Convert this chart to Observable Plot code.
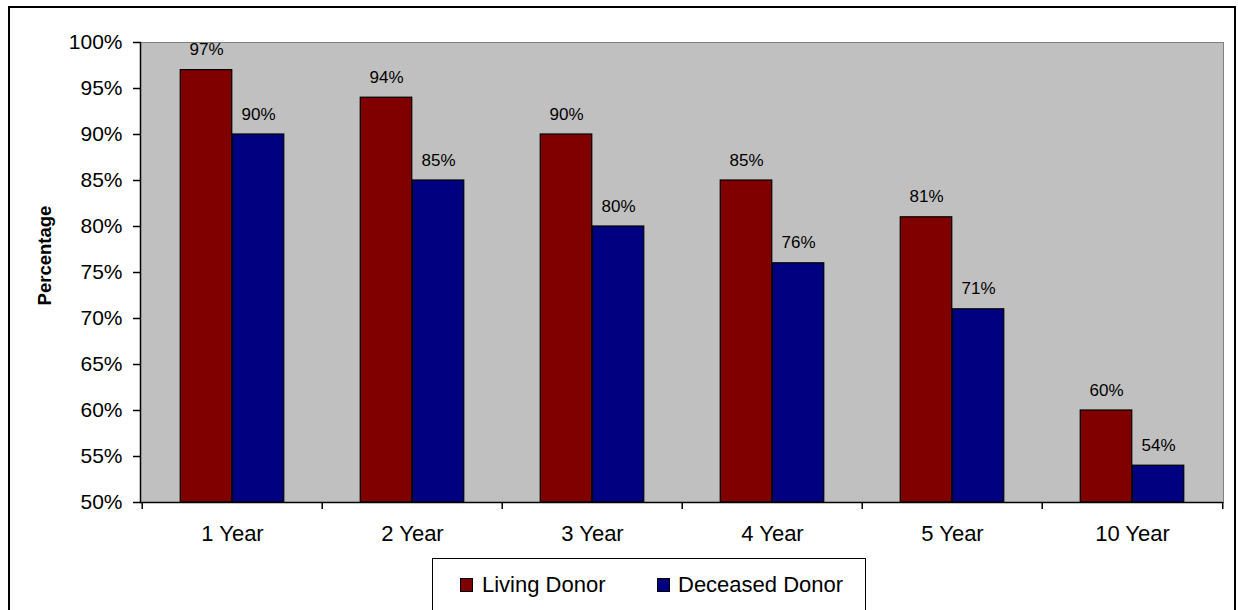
<!DOCTYPE html>
<html>
<head>
<meta charset="utf-8">
<script src="https://cdn.jsdelivr.net/npm/d3@7"></script>
<script src="https://cdn.jsdelivr.net/npm/@observablehq/plot@0.6"></script>
<style>
  html, body { margin: 0; padding: 0; background: #fff; overflow: hidden; width: 1238px; height: 610px; }
  body { position: relative; font-family: "Liberation Sans", Arial, sans-serif; color: #000; }
  #border { position: absolute; left: 8px; top: 6px; width: 1228px; height: 640px; border: 2px solid #000; box-sizing: border-box; }
  #chart { position: absolute; left: 0; top: 0; }
  #legend { position: absolute; left: 432px; top: 558px; width: 434px; height: 70px; border: 1px solid #000; box-sizing: border-box; background: #fff; font-size: 22px; }
  .sw { position: absolute; top: 19px; width: 13px; height: 14px; border: 1px solid #000; box-sizing: border-box; }
  .lb { position: absolute; top: 15px; line-height: 22px; white-space: nowrap; }
</style>
</head>
<body>
<div id="border"></div>
<div id="chart"></div>
<div id="legend"></div>
<script>
// ---- data ----
const years = ["1 Year", "2 Year", "3 Year", "4 Year", "5 Year", "10 Year"];
const livingDonor = [97, 94, 90, 85, 81, 60];
const deceasedDonor = [90, 85, 80, 76, 71, 54];
const seriesNames = ["Living Donor", "Deceased Donor"];
const seriesColors = ["#800000", "#000080"];
const yTicks = [50, 55, 60, 65, 70, 75, 80, 85, 90, 95, 100];

const livingData = years.map((year, i) => ({year, value: livingDonor[i]}));
const deceasedData = years.map((year, i) => ({year, value: deceasedDonor[i]}));

// ---- layout ----
const W = 1238, H = 545;
const mL = 140, mR = 15, mT = 42, mB = 43;
const band = (W - mL - mR) / years.length;
const half = band / 2;
const barW = 52;

const font = "Liberation Sans, Arial, sans-serif";

const chart = Plot.plot({
  width: W,
  height: H,
  marginLeft: mL,
  marginRight: mR,
  marginTop: mT,
  marginBottom: mB,
  style: {fontFamily: font, fontSize: "16px", color: "#000", background: "transparent", overflow: "visible"},
  x: {domain: years, padding: 0, label: null},
  y: {domain: [50, 100], label: null},
  marks: [
    Plot.frame({fill: "#c0c0c0", stroke: "#808080"}),
    Plot.barY(livingData, {
      x: "year", y1: 50, y2: "value",
      fill: seriesColors[0], stroke: "#000", strokeWidth: 1.2,
      insetLeft: half - barW, insetRight: half
    }),
    Plot.barY(deceasedData, {
      x: "year", y1: 50, y2: "value",
      fill: seriesColors[1], stroke: "#000", strokeWidth: 1.2,
      insetLeft: half, insetRight: half - barW
    }),
    Plot.text(livingData, {
      x: "year", y: "value", text: d => d.value + "%",
      dx: -barW / 2, dy: -15, lineAnchor: "bottom", fontSize: 17, fill: "#000"
    }),
    Plot.text(deceasedData, {
      x: "year", y: "value", text: d => d.value + "%",
      dx: barW / 2, dy: -15, lineAnchor: "bottom", fontSize: 17, fill: "#000"
    }),
    Plot.ruleY([50], {stroke: "#000", strokeWidth: 1.5}),
    Plot.frame({anchor: "left", stroke: "#000", strokeWidth: 1.5}),
    Plot.axisY({
      ticks: yTicks, tickFormat: d => d + "%", tickSize: 7, tickPadding: 11,
      fontSize: 21, label: null, strokeWidth: 1.5
    }),
    Plot.axisX({tickSize: 0, tickPadding: 23, fontSize: 22, label: null}),
    Plot.axisX({tickSize: 7, dx: -half, tickFormat: () => "", label: null, strokeWidth: 1.5}),
    Plot.axisX({ticks: [years[years.length - 1]], tickSize: 7, dx: half, tickFormat: () => "", label: null, strokeWidth: 1.5}),
    Plot.text(["Percentage"], {
      frameAnchor: "left", textAnchor: "middle", rotate: -90, dx: -95, dy: -17,
      fontWeight: "bold", fontSize: 18.5, fill: "#000"
    })
  ]
});
document.getElementById("chart").appendChild(chart);

// ---- legend ----
const legend = document.getElementById("legend");
const swX = [27, 224];
const lbX = [49, 245];
seriesNames.forEach((name, i) => {
  const sw = document.createElement("div");
  sw.className = "sw";
  sw.style.left = swX[i] + "px";
  sw.style.background = seriesColors[i];
  legend.appendChild(sw);
  const lb = document.createElement("div");
  lb.className = "lb";
  lb.style.left = lbX[i] + "px";
  lb.textContent = name;
  legend.appendChild(lb);
});
</script>
</body>
</html>
